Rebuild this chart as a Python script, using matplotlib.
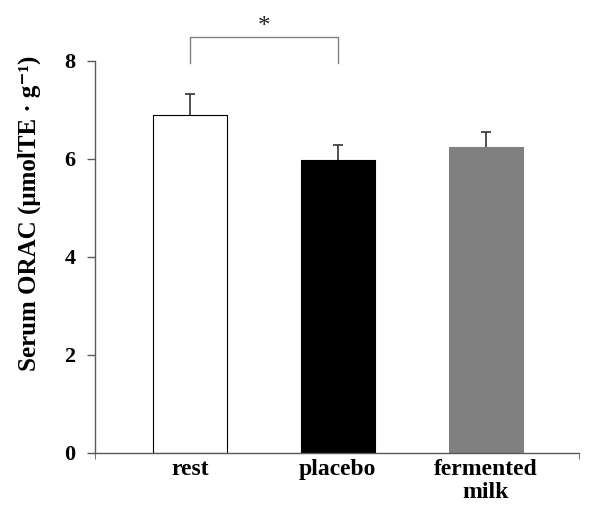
import matplotlib
matplotlib.use("Agg")
import matplotlib.pyplot as plt

categories = ["rest", "placebo", "fermented\nmilk"]
values = [6.90, 5.98, 6.24]
errors = [0.42, 0.31, 0.32]
colors = ["white", "black", "#808080"]
yticks = [0, 2, 4, 6, 8]

plt.rcParams['font.family'] = ['Liberation Serif', 'DejaVu Serif']
plt.rcParams['font.weight'] = 'bold'

fig = plt.figure(figsize=(6, 5.25), dpi=100)
ax = fig.add_axes([95/600, 1-453/525, (579-95)/600, (453-61)/525])

x = list(range(len(categories)))
ax.bar(x, values, width=0.5, color=colors, edgecolor=["black", "black", "#808080"], linewidth=0.8, zorder=2)
eb = ax.errorbar(x, values, yerr=[[0]*3, errors], fmt='none', ecolor='#333333', elinewidth=1.2, capsize=3.5, capthick=1.2, zorder=3)
eb[1][0].set_visible(False)

xmin, xmax = -0.64, 2.63
ax.set_xlim(xmin, xmax)
ax.set_ylim(0, 8)
ax.set_yticks(yticks)
ax.set_yticklabels([str(t) for t in yticks], fontsize=16, fontweight='bold')
ax.set_xticks(x)
ax.set_xticklabels(categories, fontsize=17, fontweight='bold', linespacing=1.15)
ax.set_xticks([xmin, xmax], minor=True)
ax.tick_params(axis='x', which='major', length=0, pad=4)
ax.tick_params(axis='x', which='minor', length=4, color='#595959', direction='out')
ax.tick_params(axis='y', direction='out', length=6, color='#595959', width=1, pad=8)
for s in ['top', 'right']:
    ax.spines[s].set_visible(False)
for s in ['left', 'bottom']:
    ax.spines[s].set_color('#595959')
    ax.spines[s].set_linewidth(1)

ax.set_ylabel("Serum ORAC (μmolTE · g\u207b\u00b9)", fontsize=18, fontweight='bold')
ax.yaxis.set_label_coords(-0.112, 0.612)

# significance bracket
ax.plot([0, 0, 1, 1], [7.96, 8.49, 8.49, 7.96], color='#808080', lw=1, clip_on=False)
ax.text(0.5, 8.47, "*", ha='center', va='bottom', fontsize=18, fontweight='normal', color='#222222')

fig.savefig("out.png", dpi=100)
